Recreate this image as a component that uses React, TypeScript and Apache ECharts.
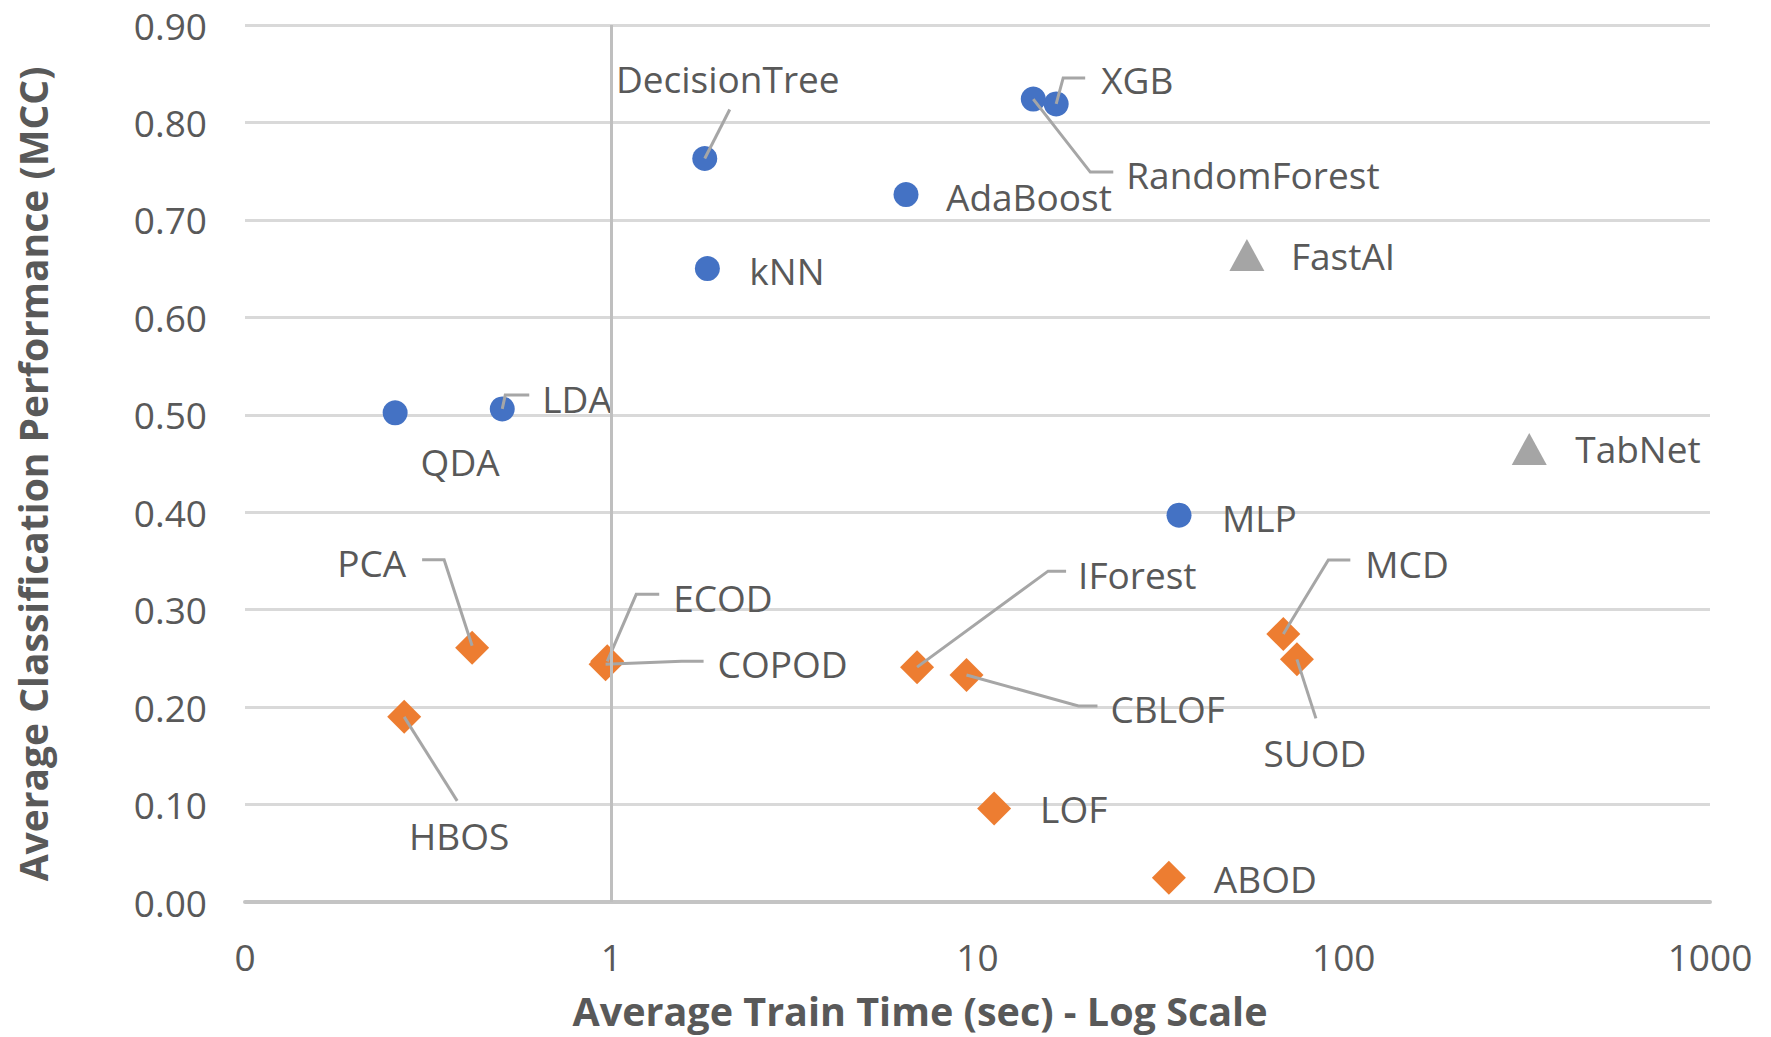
import React, { useEffect, useRef } from "react";
import * as echarts from "echarts";

// ---- Data ----
const classifierNames = ["DecisionTree", "kNN", "AdaBoost", "RandomForest", "XGB", "QDA", "LDA", "MLP"];
const classifierTime = [1.8, 1.83, 6.38, 14.2, 16.4, 0.257, 0.504, 35.5];
const classifierMCC = [0.763, 0.65, 0.726, 0.824, 0.819, 0.502, 0.506, 0.397];

const deepNames = ["FastAI", "TabNet"];
const deepTime = [54.4, 321];
const deepMCC = [0.664, 0.465];

const anomalyNames = ["PCA", "HBOS", "ECOD", "COPOD", "IForest", "CBLOF", "LOF", "ABOD", "MCD", "SUOD"];
const anomalyTime = [0.417, 0.272, 0.975, 0.965, 6.84, 9.33, 11.1, 33.3, 68.4, 74.5];
const anomalyMCC = [0.261, 0.19, 0.247, 0.244, 0.241, 0.233, 0.096, 0.025, 0.275, 0.249];

const xTickValues = [0.1, 1, 10, 100, 1000];
const xTickLabels = ["0", "1", "10", "100", "1000"];

const xTitle = "Average Train Time (sec) - Log Scale";
const yTitle = "Average Classification Performance (MCC)";

// ---- Label placement (pixel offsets from the marker centre) ----
type LabelCfg = { tx: number; ty: number; align: "left" | "center" | "right"; leader?: number[][] };
const labelCfg: Record<string, LabelCfg> = {
  DecisionTree: { tx: 23, ty: -80, align: "center", leader: [[0, 0], [25, -49]] },
  XGB: { tx: 45, ty: -24, align: "left", leader: [[0, 0], [7, -26], [29, -26]] },
  RandomForest: { tx: 93, ty: 75, align: "left", leader: [[0, 0], [57, 73], [80, 73]] },
  AdaBoost: { tx: 40, ty: 2, align: "left" },
  kNN: { tx: 42, ty: 2, align: "left" },
  FastAI: { tx: 44, ty: 1, align: "left" },
  TabNet: { tx: 46, ty: 0, align: "left" },
  MLP: { tx: 43, ty: 2, align: "left" },
  QDA: { tx: 65, ty: 49, align: "center" },
  LDA: { tx: 40, ty: -10, align: "left", leader: [[0, 0], [3, -14], [27, -14]] },
  PCA: { tx: -66, ty: -85, align: "right", leader: [[0, -2], [-28, -88], [-50, -88]] },
  HBOS: { tx: 55, ty: 119, align: "center", leader: [[0, 0], [53, 84]] },
  ECOD: { tx: 66, ty: -64, align: "left", leader: [[0, 0], [29, -67], [52, -67]] },
  COPOD: { tx: 112, ty: -1, align: "left", leader: [[0, 0], [76, -3], [98, -3]] },
  IForest: { tx: 161, ty: -93, align: "left", leader: [[0, 0], [131, -96], [149, -96]] },
  CBLOF: { tx: 144, ty: 34, align: "left", leader: [[0, 0], [112, 31], [131, 31]] },
  MCD: { tx: 82, ty: -71, align: "left", leader: [[0, 0], [45, -74], [67, -74]] },
  SUOD: { tx: 18, ty: 93, align: "center", leader: [[0, 0], [19, 59]] },
  LOF: { tx: 46, ty: 0, align: "left" },
  ABOD: { tx: 45, ty: 1, align: "left" },
};

const FONT = "'Open Sans', 'Liberation Sans', sans-serif";
const TEXT = "#595959";

export default function App() {
  const ref = useRef<HTMLDivElement>(null);

  useEffect(() => {
    if (!ref.current) return;
    const chart = echarts.init(ref.current, undefined, { renderer: "svg" });

    const allNames = [...classifierNames, ...deepNames, ...anomalyNames];
    const allTime = [...classifierTime, ...deepTime, ...anomalyTime];
    const allMCC = [...classifierMCC, ...deepMCC, ...anomalyMCC];

    const option: any = {
      animation: false,
      backgroundColor: "#ffffff",
      grid: { left: 245, right: 61, top: 25, bottom: 135 },
      xAxis: {
        type: "log",
        logBase: 10,
        min: 0.1,
        max: 1000,
        axisLine: { show: true, lineStyle: { color: "#C4C4C4", width: 4 } },
        axisTick: { show: false },
        splitLine: { show: false },
        axisLabel: {
          fontSize: 37,
          fontFamily: FONT,
          color: TEXT,
          margin: 36,
          formatter: (v: number) => {
            let best = 0;
            xTickValues.forEach((t, i) => {
              if (Math.abs(Math.log10(t) - Math.log10(v)) < Math.abs(Math.log10(xTickValues[best]) - Math.log10(v))) best = i;
            });
            return xTickLabels[best];
          },
        },
      },
      yAxis: {
        type: "value",
        min: 0,
        max: 0.9,
        interval: 0.1,
        axisLine: { show: false },
        axisTick: { show: false },
        splitLine: { show: true, lineStyle: { color: "#D9D9D9", width: 3 } },
        axisLabel: {
          fontSize: 37,
          fontFamily: FONT,
          color: TEXT,
          margin: 38,
          formatter: (v: number) => v.toFixed(2),
        },
      },
      graphic: [
        {
          type: "text",
          x: 920,
          y: 1011,
          style: {
            text: xTitle,
            fontSize: 39.5,
            lineHeight: 40,
            fontWeight: "bold",
            fontFamily: FONT,
            fill: TEXT,
            align: "center",
            verticalAlign: "middle",
            textAlign: "center",
            textVerticalAlign: "middle",
          },
        },
        {
          type: "text",
          x: 32,
          y: 474,
          rotation: Math.PI / 2,
          style: {
            text: yTitle,
            fontSize: 39,
            lineHeight: 40,
            fontWeight: "bold",
            fontFamily: FONT,
            fill: TEXT,
            align: "center",
            verticalAlign: "middle",
            textAlign: "center",
            textVerticalAlign: "middle",
          },
        },
      ],
      series: [
        {
          type: "scatter",
          name: "Classifiers",
          symbol: "circle",
          symbolSize: 25,
          itemStyle: { color: "#4472C4", opacity: 1 },
          data: classifierNames.map((_, i) => [classifierTime[i], classifierMCC[i]]),
          z: 3,
          markLine: {
            silent: true,
            symbol: ["none", "none"],
            label: { show: false },
            lineStyle: { color: "#BFBFBF", width: 3, type: "solid" },
            emphasis: { disabled: true },
            data: [{ xAxis: 1 }],
          },
        },
        {
          type: "scatter",
          name: "Deep learning",
          symbol: "triangle",
          symbolSize: [35, 32],
          itemStyle: { color: "#A5A5A5", opacity: 1 },
          data: deepNames.map((_, i) => [deepTime[i], deepMCC[i]]),
          z: 3,
        },
        {
          type: "scatter",
          name: "Anomaly detection",
          symbol: "diamond",
          symbolSize: [34, 34],
          itemStyle: { color: "#ED7D31", opacity: 1 },
          data: anomalyNames.map((_, i) => [anomalyTime[i], anomalyMCC[i]]),
          z: 3,
        },
        {
          type: "custom",
          name: "labels",
          silent: true,
          z: 4,
          data: allNames.map((_, i) => [allTime[i], allMCC[i], i]),
          encode: { x: 0, y: 1 },
          renderItem: (_params: any, api: any) => {
            const p = api.coord([api.value(0), api.value(1)]);
            const name = allNames[api.value(2)];
            const cfg = labelCfg[name];
            const children: any[] = [];
            if (cfg.leader) {
              children.push({
                type: "polyline",
                shape: { points: cfg.leader.map((d) => [p[0] + d[0], p[1] + d[1]]) },
                style: { stroke: "#A6A6A6", lineWidth: 3, fill: null },
              });
            }
            children.push({
              type: "text",
              style: {
                text: name,
                x: p[0] + cfg.tx,
                y: p[1] + cfg.ty,
                fontSize: 37,
                fontFamily: FONT,
                fill: TEXT,
                align: cfg.align,
                verticalAlign: "middle",
                textAlign: cfg.align,
                textVerticalAlign: "middle",
              },
            });
            return { type: "group", children };
          },
        },
      ],
    };

    chart.setOption(option);
    return () => chart.dispose();
  }, []);

  return (
    <div
      ref={ref}
      style={{ position: "absolute", left: 0, top: 0, width: 1771, height: 1037, background: "#fff" }}
    />
  );
}
